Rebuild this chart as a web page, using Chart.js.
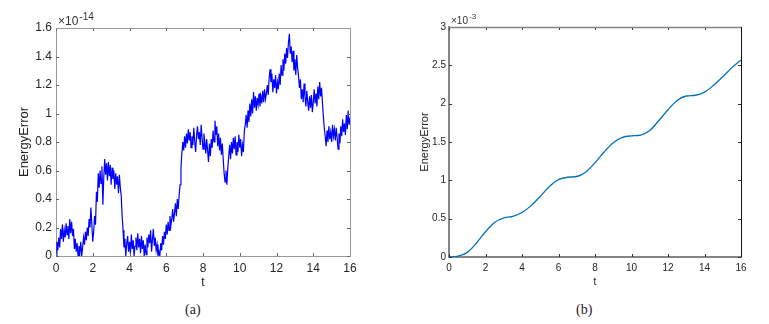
<!DOCTYPE html>
<html>
<head>
<meta charset="utf-8">
<script src="https://cdn.jsdelivr.net/npm/chart.js@4.4.0/dist/chart.umd.min.js"></script>
<style>
  body { margin: 0; background: #fff; width: 769px; height: 324px; position: relative; overflow: hidden; }
  .box { position: absolute; top: 0; height: 290px; }
  .cap { position: absolute; top: 302px; font-family: "Liberation Serif", serif; font-size: 14px; color: #222; }
</style>
</head>
<body>
<div class="box" style="left:0;width:380px"><canvas id="chartA"></canvas></div>
<div class="box" style="left:390px;width:379px"><canvas id="chartB"></canvas></div>
<div class="cap" style="left:185px">(a)</div>
<div class="cap" style="left:576px">(b)</div>
<script>
// (a) energy error, units of 1e-14, sampled every 0.05 in t (one row = 1.0 in t)
const stepA = 0.05;
const errA = [
  0.00, 0.10, 0.04, 0.13, 0.06, 0.19, 0.12, 0.22, 0.10, 0.18, 0.13, 0.23, 0.15, 0.21, 0.12, 0.26, 0.16, 0.24, 0.14, 0.19,
  0.05, 0.12, 0.03, 0.09, 0.00, 0.07, 0.02, 0.10, 0.00, 0.06, 0.13, 0.08, 0.17, 0.11, 0.20, 0.14, 0.26, 0.20, 0.34, 0.22,
  0.10, 0.17, 0.28, 0.22, 0.45, 0.38, 0.58, 0.48, 0.60, 0.51, 0.63, 0.36, 0.55, 0.68, 0.57, 0.65, 0.53, 0.66, 0.56, 0.64,
  0.50, 0.62, 0.54, 0.60, 0.47, 0.58, 0.50, 0.56, 0.44, 0.57, 0.48, 0.42, 0.28, 0.18, 0.06, 0.12, 0.00, 0.09, 0.14, 0.03,
  0.10, 0.02, 0.15, 0.05, 0.11, 0.00, 0.07, 0.13, 0.04, 0.16, 0.06, 0.12, 0.02, 0.14, 0.05, 0.11, 0.00, 0.08, 0.01, 0.13,
  0.06, 0.15, 0.09, 0.18, 0.03, 0.12, 0.19, 0.07, 0.13, 0.04, 0.08, 0.00, 0.03, 0.00, 0.09, 0.04, 0.14, 0.08, 0.17, 0.12,
  0.22, 0.15, 0.24, 0.18, 0.28, 0.21, 0.26, 0.33, 0.24, 0.30, 0.37, 0.28, 0.40, 0.33, 0.42, 0.50, 0.62, 0.72, 0.80, 0.74,
  0.84, 0.76, 0.86, 0.79, 0.89, 0.81, 0.87, 0.76, 0.84, 0.78, 0.90, 0.80, 0.73, 0.85, 0.91, 0.82, 0.87, 0.78, 0.92, 0.83,
  0.75, 0.86, 0.80, 0.72, 0.82, 0.74, 0.66, 0.79, 0.70, 0.82, 0.76, 0.88, 0.80, 0.95, 0.85, 0.91, 0.77, 0.86, 0.74, 0.83,
  0.71, 0.79, 0.68, 0.58, 0.52, 0.60, 0.50, 0.62, 0.70, 0.78, 0.68, 0.80, 0.72, 0.83, 0.75, 0.84, 0.71, 0.80, 0.73, 0.85,
  0.76, 0.82, 0.70, 0.78, 0.73, 0.88, 0.92, 0.99, 0.90, 1.02, 0.94, 1.07, 0.98, 1.10, 1.00, 1.15, 1.04, 1.12, 1.02, 1.11,
  1.06, 1.14, 1.05, 1.12, 1.07, 1.16, 1.08, 1.17, 1.10, 1.14, 1.20, 1.13, 1.25, 1.31, 1.22, 1.28, 1.15, 1.24, 1.18, 1.27,
  1.14, 1.22, 1.17, 1.28, 1.20, 1.34, 1.27, 1.38, 1.30, 1.42, 1.35, 1.46, 1.39, 1.50, 1.56, 1.42, 1.47, 1.36, 1.44, 1.30,
  1.38, 1.27, 1.41, 1.32, 1.26, 1.18, 1.24, 1.10, 1.17, 1.08, 1.21, 1.12, 1.05, 1.16, 1.08, 1.02, 1.12, 1.04, 1.13, 1.01,
  1.08, 1.17, 1.07, 1.14, 1.05, 1.19, 1.10, 1.22, 1.12, 1.18, 1.08, 0.98, 0.90, 0.84, 0.77, 0.88, 0.80, 0.91, 0.82, 0.87,
  0.80, 0.92, 0.84, 0.89, 0.81, 0.90, 0.83, 0.75, 0.86, 0.79, 0.91, 0.84, 0.96, 0.87, 0.93, 0.85, 0.99, 0.89, 1.02, 0.92,
  0.97
];
const tA = errA.map((_, i) => +(i * stepA).toFixed(2));

// (b) energy error, units of 1e-3
const tB = [0, 0.5, 1, 1.5, 2, 2.5, 3, 3.5, 4, 4.5, 5, 5.5, 6, 6.5, 7, 7.5, 8,
  8.5, 9, 9.5, 10, 10.5, 11, 11.5, 12, 12.5, 13, 13.5, 14, 14.5, 15, 15.5, 16];
const errB = [0.00, 0.01, 0.06, 0.18, 0.33, 0.45, 0.51, 0.53, 0.58, 0.67, 0.79,
  0.92, 1.01, 1.04, 1.05, 1.11, 1.23, 1.37, 1.49, 1.56, 1.58, 1.59, 1.65, 1.78,
  1.92, 2.04, 2.10, 2.11, 2.15, 2.24, 2.35, 2.47, 2.57];

const tickX = [0, 16, 2];
const tickYA = [0, 1.6, 0.2];
const tickYB = [0, 3, 0.5];

const FONT = "'Liberation Sans', Arial, sans-serif";
const fmt = v => String(+v.toFixed(2));

// inward ticks on all four sides, top/right frame, exponent label
const frame = {
  id: 'frame',
  afterDatasetsDraw(chart, args, o) {
    const { ctx, chartArea: a, scales: { x, y } } = chart;
    ctx.save();
    ctx.lineWidth = 1;
    ctx.strokeStyle = o.tickColor;
    ctx.beginPath();
    x.ticks.forEach(t => {
      const px = Math.round(x.getPixelForValue(t.value)) + 0.5;
      ctx.moveTo(px, a.bottom); ctx.lineTo(px, a.bottom - 3);
      ctx.moveTo(px, a.top); ctx.lineTo(px, a.top + 3);
    });
    y.ticks.forEach(t => {
      const py = Math.round(y.getPixelForValue(t.value)) + 0.5;
      ctx.moveTo(a.left, py); ctx.lineTo(a.left + 3, py);
      ctx.moveTo(a.right, py); ctx.lineTo(a.right - 3, py);
    });
    ctx.stroke();

    ctx.lineWidth = o.topWidth;
    ctx.strokeStyle = o.topColor;
    ctx.beginPath();
    ctx.moveTo(a.left, a.top + 0.5); ctx.lineTo(a.right, a.top + 0.5);
    ctx.stroke();
    ctx.lineWidth = 1;
    ctx.strokeStyle = o.rightColor;
    ctx.beginPath();
    ctx.moveTo(a.right + 0.5, a.top); ctx.lineTo(a.right + 0.5, a.bottom);
    ctx.stroke();

    ctx.fillStyle = '#333';
    ctx.textBaseline = 'alphabetic';
    ctx.font = o.expSize + 'px ' + FONT;
    ctx.fillText('×10', a.left + 2, a.top - 3);
    const w = ctx.measureText('×10').width;
    ctx.font = (o.expSize - 2) + 'px ' + FONT;
    ctx.fillText(o.exp, a.left + 2 + w + 1, a.top - 8);
    ctx.restore();
  }
};

function makeChart(id, t, err, color, lw, yTicks, sz) {
  return new Chart(document.getElementById(id), {
    type: 'line',
    data: {
      datasets: [{
        data: t.map((v, i) => ({ x: v, y: err[i] })),
        borderColor: color,
        borderWidth: lw,
        pointRadius: 0,
        tension: sz.smooth ? 0.4 : 0,
        cubicInterpolationMode: sz.smooth ? 'monotone' : 'default'
      }]
    },
    options: {
      responsive: true,
      maintainAspectRatio: false,
      animation: false,
      layout: { padding: { top: sz.top, right: sz.right, left: 0, bottom: 0 } },
      plugins: {
        legend: { display: false },
        tooltip: { enabled: false },
        frame: sz.frame
      },
      scales: {
        x: {
          type: 'linear',
          min: tickX[0], max: tickX[1],
          ticks: { stepSize: tickX[2], color: '#262626', padding: 5, callback: fmt,
                   font: { family: FONT, size: sz.font } },
          grid: { drawOnChartArea: false, drawTicks: false },
          border: { color: sz.axisColor, width: sz.axisWidth },
          title: { display: true, text: 't', color: '#222',
                   font: { family: FONT, size: sz.font },
                   padding: { top: 0, bottom: sz.tPad } },
          afterFit: s => { s.height = sz.xh; }
        },
        y: {
          min: yTicks[0], max: yTicks[1],
          ticks: { stepSize: yTicks[2], color: '#262626', padding: sz.yPad, callback: fmt,
                   font: { family: FONT, size: sz.font } },
          grid: { drawOnChartArea: false, drawTicks: false },
          border: { color: sz.axisColor, width: sz.axisWidth },
          title: { display: true, text: 'EnergyError', color: '#222',
                   font: { family: FONT, size: sz.titleFont },
                   padding: { top: sz.titlePad, bottom: 0 } },
          afterFit: s => { s.width = sz.yw; }
        }
      }
    },
    plugins: [frame]
  });
}

makeChart('chartA', tA, errA, '#0000ff', 1.2, tickYA, {
  top: 28, right: 30, xh: 34, yw: 56, font: 12, titleFont: 13, titlePad: 17,
  tPad: 0, yPad: 4, axisColor: '#9a9a9a', axisWidth: 1, smooth: false,
  frame: { tickColor: '#666', topColor: '#9a9a9a', topWidth: 1, rightColor: '#9a9a9a',
           exp: '-14', expSize: 12 }
});

makeChart('chartB', tB, errB, '#0072bd', 1.3, tickYB, {
  top: 27, right: 28, xh: 33, yw: 59, font: 10, titleFont: 11, titlePad: 28,
  tPad: 2, yPad: 3, axisColor: '#858585', axisWidth: 2, smooth: true,
  frame: { tickColor: '#333', topColor: '#858585', topWidth: 1.5, rightColor: '#111',
           exp: '-3', expSize: 10 }
});
</script>
</body>
</html>
